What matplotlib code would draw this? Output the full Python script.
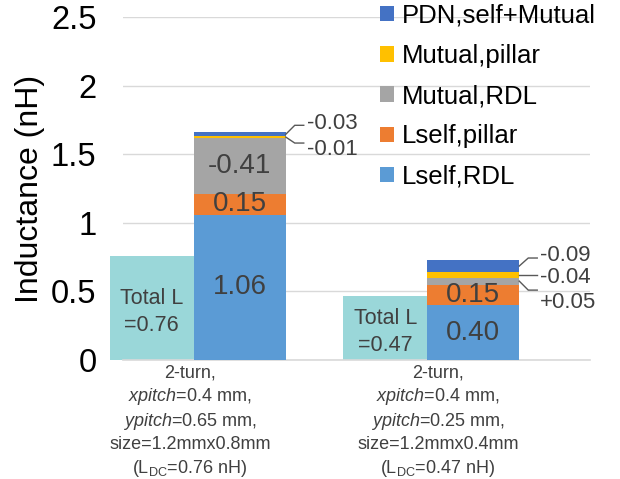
import matplotlib
matplotlib.use("Agg")
import matplotlib.pyplot as plt
from matplotlib.patches import Patch

plt.rcParams["font.family"] = ["Liberation Sans", "DejaVu Sans"]
plt.rcParams["mathtext.fontset"] = "custom"
plt.rcParams["mathtext.rm"] = "Liberation Sans"
plt.rcParams["mathtext.it"] = "Liberation Sans:italic"

# ---- data (nH) ----
categories = [
    "2-turn,\n$\\mathit{xpitch}$=0.4 mm,\n$\\mathit{ypitch}$=0.65 mm,\nsize=1.2mmx0.8mm\n(L$_{\\mathrm{DC}}$=0.76 nH)",
    "2-turn,\n$\\mathit{xpitch}$=0.4 mm,\n$\\mathit{ypitch}$=0.25 mm,\nsize=1.2mmx0.4mm\n(L$_{\\mathrm{DC}}$=0.47 nH)",
]
lself_rdl = [1.06, 0.40]
lself_pillar = [0.15, 0.15]
mutual_rdl = [-0.41, 0.05]
mutual_pillar = [-0.01, -0.04]
pdn = [-0.03, -0.09]

series_names = ["Lself,RDL", "Lself,pillar", "Mutual,RDL", "Mutual,pillar", "PDN,self+Mutual"]
series_values = [lself_rdl, lself_pillar, mutual_rdl, mutual_pillar, pdn]
series_colors = ["#5B9BD5", "#ED7D31", "#A5A5A5", "#FFC000", "#4472C4"]
total_color = "#9AD7D9"
label_color = "#404040"

# net inductance of each configuration
totals = [sum(s[i] for s in series_values) for i in range(len(categories))]

fig = plt.figure(figsize=(6.2, 4.79), dpi=100)
ax = fig.add_axes([123 / 620, 1 - 360 / 479, 467 / 620, 343 / 479])

x = list(range(len(categories)))
bar_w = 0.394
tot_w = 0.36

# total-inductance bars to the left of each stack
for i, t in enumerate(totals):
    left = x[i] - bar_w / 2 - tot_w
    ax.bar(left, t, width=tot_w, align="edge", color=total_color, zorder=2, clip_on=False)
    ax.text(left + tot_w / 2, t / 2 - 0.03, f"Total L\n={t:.2f}", ha="center", va="center",
            fontsize=15.5, color=label_color, zorder=4, linespacing=1.35)

# stacked contributions (bar heights are magnitudes)
bottoms = [0.0] * len(categories)
seg_info = []
for name, vals, col in zip(series_names, series_values, series_colors):
    h = [abs(v) for v in vals]
    ax.bar(x, h, width=bar_w, bottom=bottoms, color=col, zorder=3, label=name)
    seg_info.append([(bottoms[i], h[i], vals[i]) for i in range(len(x))])
    bottoms = [b + hh for b, hh in zip(bottoms, h)]

# labels inside the larger segments
inside = {0: [0, 1], 1: [0, 1], 2: [0]}
for s_idx, cats in inside.items():
    for i in cats:
        b, h, v = seg_info[s_idx][i]
        ax.text(x[i], b + h / 2, f"{v:.2f}", ha="center", va="center",
                fontsize=20, color=label_color, zorder=5)

# leader-line labels for the thin segments: (series, category, rise px, text shift px)
px_x = 1.0 / 233.5
px_y = 2.5 / 343
leaders = [
    (4, 0, 9, 2),
    (3, 0, -6, -6),
    (4, 1, 8, 3),
    (3, 1, 0, -3),
    (2, 1, -9, -12),
]
for s_idx, i, rise, shift in leaders:
    b, h, v = seg_info[s_idx][i]
    x0 = x[i] + bar_w / 2
    y0 = b + h / 2
    x1 = x0 + 9 * px_x
    y1 = y0 + rise * px_y
    x2 = x1 + 9 * px_x
    ax.plot([x0, x1, x2], [y0, y1, y1], color="#595959", lw=1, zorder=5,
            clip_on=False, solid_joinstyle="miter")
    ax.text(x2 + 3 * px_x, y1 + shift * px_y, f"{v:+.2f}",
            ha="left", va="center", fontsize=16, color=label_color, zorder=5)

ax.set_xlim(-0.5, 1.5)
ax.set_ylim(0, 2.5)
ax.set_yticks([0, 0.5, 1, 1.5, 2, 2.5])
ax.set_yticklabels(["0", "0.5", "1", "1.5", "2", "2.5"])
ax.tick_params(axis="y", length=0, pad=19, labelsize=23.5, labelcolor="black")

# category labels under each group
label_shift = [-0.213, -0.151]
ax.set_xticks([xi + s for xi, s in zip(x, label_shift)])
ax.set_xticklabels(categories, fontsize=13, color=label_color, linespacing=1.3)
ax.tick_params(axis="x", length=0, pad=3)

ax.set_ylabel("Inductance (nH)", fontsize=23, color="black")
ax.yaxis.set_label_coords(-0.166, 0.5)

ax.grid(axis="y", color="#D9D9D9", lw=1, zorder=0)
ax.set_axisbelow(True)
for side in ["top", "right", "left"]:
    ax.spines[side].set_visible(False)
ax.spines["bottom"].set_color("#D9D9D9")
ax.spines["bottom"].set_linewidth(1.2)

handles = [Patch(facecolor=c, edgecolor="none") for c in series_colors][::-1]
fig.legend(handles, series_names[::-1], loc="upper left",
           bbox_to_anchor=(380 / 620, 0.992), frameon=False, fontsize=18.5,
           handlelength=0.55, handleheight=0.55, handletextpad=0.3,
           labelspacing=0.63, borderpad=0, borderaxespad=0)

fig.savefig("out.png", dpi=100)
